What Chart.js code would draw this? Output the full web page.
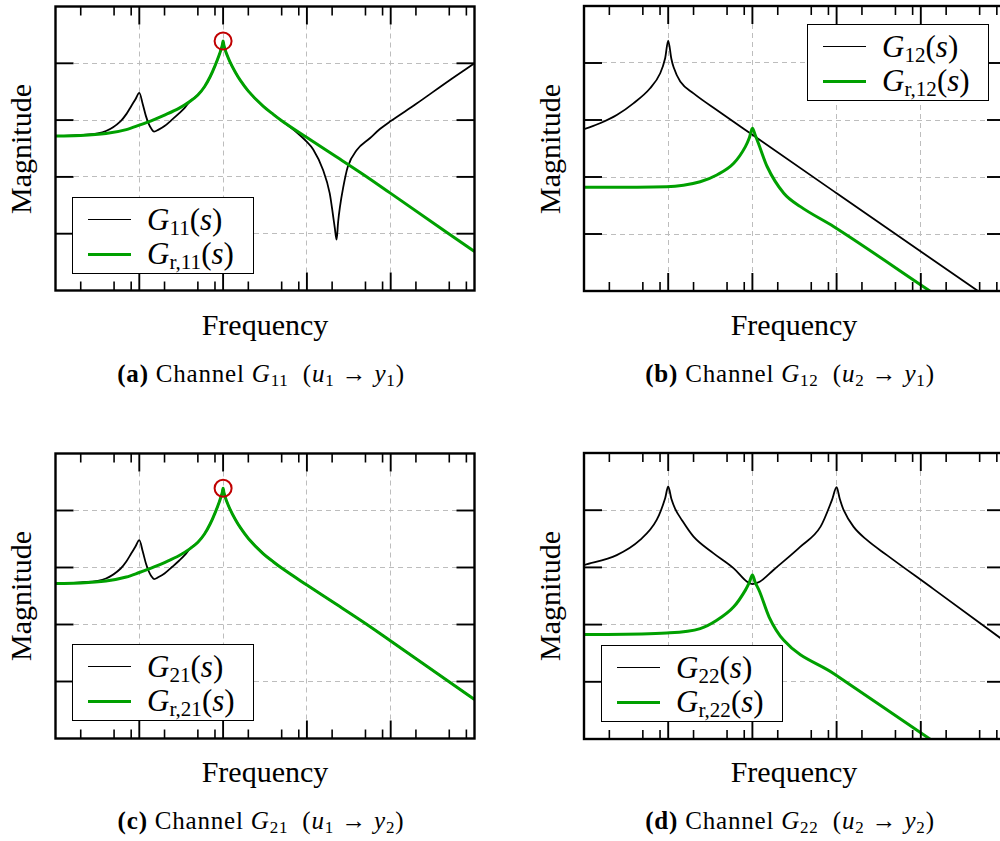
<!DOCTYPE html>
<html>
<head>
<meta charset="utf-8">
<script src="https://cdn.jsdelivr.net/npm/chart.js@4.4.1/dist/chart.umd.min.js"></script>
<style>
  html, body { margin: 0; padding: 0; background: #fff; overflow: hidden; }
  #page { position: relative; width: 1000px; height: 841px; overflow: hidden; font-family: "Liberation Serif", serif; color: #000; }
  .plot { position: absolute; }
  .ylab { position: absolute; width: 200px; height: 34px; line-height: 34px; font-size: 30px; text-align: center; white-space: nowrap; transform: rotate(-90deg); }
  .xlab { position: absolute; width: 300px; line-height: 34px; font-size: 30px; text-align: center; white-space: nowrap; }
  .cap { position: absolute; width: 440px; line-height: 28px; font-size: 25px; letter-spacing: 0.8px; text-align: center; white-space: nowrap; }
  .legend { position: absolute; width: 182px; height: 77px; background: #fff; border: 1.5px solid #000; box-sizing: border-box; }
  .legend .sw { position: absolute; left: 15px; width: 43px; height: 0; }
  .legend .txt { position: absolute; left: 74px; font-size: 31px; line-height: 34px; white-space: nowrap; }
  sub { font-size: 68%; vertical-align: -0.22em; line-height: 0; font-style: normal; }
  i { font-style: italic; }
</style>
</head>
<body>
<div id="page">
  <div class="plot" style="left:45px;top:-4px;width:440px;height:305px"><canvas id="chartA"></canvas></div>
  <div class="plot" style="left:574px;top:-4px;width:441px;height:305px"><canvas id="chartB"></canvas></div>
  <div class="plot" style="left:45px;top:443px;width:440px;height:306px"><canvas id="chartC"></canvas></div>
  <div class="plot" style="left:574px;top:443px;width:441px;height:306px"><canvas id="chartD"></canvas></div>

  <div class="ylab" style="left:-79px;top:132px">Magnitude</div>
  <div class="ylab" style="left:450px;top:132px">Magnitude</div>
  <div class="ylab" style="left:-79px;top:579px">Magnitude</div>
  <div class="ylab" style="left:450px;top:579px">Magnitude</div>

  <div class="xlab" style="left:115px;top:308px">Frequency</div>
  <div class="xlab" style="left:644px;top:308px">Frequency</div>
  <div class="xlab" style="left:115px;top:755px">Frequency</div>
  <div class="xlab" style="left:644px;top:755px">Frequency</div>

  <div class="cap" style="left:41px;top:360px"><b>(a)</b> Channel <i>G</i><sub>11</sub>&nbsp; (<i>u</i><sub>1</sub> → <i>y</i><sub>1</sub>)</div>
  <div class="cap" style="left:570px;top:360px"><b>(b)</b> Channel <i>G</i><sub>12</sub>&nbsp; (<i>u</i><sub>2</sub> → <i>y</i><sub>1</sub>)</div>
  <div class="cap" style="left:41px;top:807px"><b>(c)</b> Channel <i>G</i><sub>21</sub>&nbsp; (<i>u</i><sub>1</sub> → <i>y</i><sub>2</sub>)</div>
  <div class="cap" style="left:570px;top:807px"><b>(d)</b> Channel <i>G</i><sub>22</sub>&nbsp; (<i>u</i><sub>2</sub> → <i>y</i><sub>2</sub>)</div>

  <div class="legend" style="left:72px;top:197px">
    <div class="sw" style="top:21px;border-top:1.8px solid #000"></div>
    <div class="txt" style="top:5px"><i>G</i><sub>11</sub>(<i>s</i>)</div>
    <div class="sw" style="top:55px;border-top:3px solid #00a000"></div>
    <div class="txt" style="top:39px"><i>G</i><sub>r,11</sub>(<i>s</i>)</div>
  </div>
  <div class="legend" style="left:807px;top:24px">
    <div class="sw" style="top:21px;border-top:1.8px solid #000"></div>
    <div class="txt" style="top:5px"><i>G</i><sub>12</sub>(<i>s</i>)</div>
    <div class="sw" style="top:55px;border-top:3px solid #00a000"></div>
    <div class="txt" style="top:39px"><i>G</i><sub>r,12</sub>(<i>s</i>)</div>
  </div>
  <div class="legend" style="left:72px;top:644px">
    <div class="sw" style="top:21px;border-top:1.8px solid #000"></div>
    <div class="txt" style="top:5px"><i>G</i><sub>21</sub>(<i>s</i>)</div>
    <div class="sw" style="top:55px;border-top:3px solid #00a000"></div>
    <div class="txt" style="top:39px"><i>G</i><sub>r,21</sub>(<i>s</i>)</div>
  </div>
  <div class="legend" style="left:601px;top:645px">
    <div class="sw" style="top:21px;border-top:1.8px solid #000"></div>
    <div class="txt" style="top:5px"><i>G</i><sub>22</sub>(<i>s</i>)</div>
    <div class="sw" style="top:55px;border-top:3px solid #00a000"></div>
    <div class="txt" style="top:39px"><i>G</i><sub>r,22</sub>(<i>s</i>)</div>
  </div>
</div>

<script>
// axes: log frequency over five decades, magnitude in dB
const decades = [1, 10, 100, 1000, 10000, 100000];
const minorSteps = [2, 5, 8];
const gridFreqs = [10, 100, 1000, 10000];
const magTicks = [-60, -20, 20, 60];
const magRange = [-100, 100];

// G11 and its reduced model
const g11Freq = [1, 2, 4, 6, 7, 8, 9, 10, 11, 12, 13, 14, 15, 17, 20, 25, 30, 35, 40, 50, 60, 70, 80, 90, 95, 98, 100, 102, 105, 110, 120, 140, 160, 200, 300, 400, 500, 700, 1000, 1190, 1560, 1870, 2060, 2150, 2260, 2360, 2470, 2705, 3070, 3940, 5640, 7430, 10000, 20000, 50000, 100000];
const g11Mag  = [8.8, 9.5, 12.3, 19.3, 24.2, 29.8, 34.7, 39.2, 31.2, 22.8, 17.2, 13.7, 11.9, 13.3, 15.8, 20.7, 24.9, 28.8, 33.05, 37.7, 43.5, 50.5, 58.2, 66.0, 70.2, 73.0, 75.65, 73.0, 70.2, 66.7, 61.4, 53.7, 48.1, 40.4, 29.8, 23.9, 19.6, 13.0, 4.6, -0.7, -15.1, -31.4, -47.9, -55.8, -64.2, -51.6, -41.8, -27.7, -13.0, -1.05, 7.2, 13.7, 19.3, 31.3, 47.9, 60.0];
const gr11Freq = [1, 2, 4, 7, 10, 15, 20, 30, 40, 50, 60, 70, 80, 90, 95, 98, 100, 102, 105, 110, 120, 140, 160, 200, 300, 400, 500, 1000, 2000, 5000, 10000, 100000];
const gr11Mag  = [8.8, 9.1, 10.5, 13.3, 16.5, 20.4, 23.5, 28.4, 33.05, 37.7, 43.5, 50.5, 58.2, 66.0, 70.2, 73.0, 75.65, 73.0, 70.2, 66.7, 61.4, 53.7, 48.1, 40.4, 29.8, 23.9, 19.6, 7.7, -3.9, -19.3, -31.6, -72.6];

// G12 and its reduced model
const g12Freq = [1, 1.55, 2.45, 3.86, 6.1, 8.04, 9.2, 10, 10.9, 11.6, 13.9, 20, 40, 100, 1000, 10000, 100000];
const g12Mag  = [13.5, 17.7, 23.5, 31.7, 42.3, 52.8, 63.3, 75.7, 63, 57, 47, 38.7, 26.0, 9.6, -31.4, -72.3, -113];
const gr12Freq = [1, 9.6, 24, 37.8, 60, 82.6, 92, 100, 108, 119, 150, 236, 372, 929, 13200, 100000];
const gr12Mag  = [-27.2, -26.8, -23.3, -18.6, -10.4, 1.3, 7.5, 14.2, 9.5, 3.0, -12.8, -31.4, -40.8, -54.9, -100.5, -135];

// G21 and its reduced model
const g21Freq = [1, 2, 4, 6, 7, 8, 9, 10, 11, 12, 13, 14, 15, 17, 20, 25, 30, 35, 40, 50, 60, 70, 80, 90, 95, 98, 100, 102, 105, 110, 120, 140, 160, 200, 300, 400, 500, 1000, 2000, 5000, 10000, 100000];
const g21Mag  = [8.8, 9.5, 12.3, 19.3, 24.2, 29.8, 34.7, 39.2, 31.2, 22.8, 17.2, 13.7, 11.9, 13.3, 15.8, 20.7, 24.9, 28.8, 33.05, 37.7, 43.5, 50.5, 58.2, 66.0, 70.2, 73.0, 75.65, 73.0, 70.2, 66.7, 61.4, 53.7, 48.1, 40.4, 29.8, 23.9, 19.6, 7.7, -3.9, -19.3, -31.6, -72.6];
const gr21Freq = [1, 2, 4, 7, 10, 15, 20, 30, 40, 50, 60, 70, 80, 90, 95, 98, 100, 102, 105, 110, 120, 140, 160, 200, 300, 400, 500, 1000, 2000, 5000, 10000, 100000];
const gr21Mag  = [8.8, 9.1, 10.5, 13.3, 16.5, 20.4, 23.5, 28.4, 33.05, 37.7, 43.5, 50.5, 58.2, 66.0, 70.2, 73.0, 75.65, 73.0, 70.2, 66.7, 61.4, 53.7, 48.1, 40.4, 29.8, 23.9, 19.6, 7.7, -3.9, -19.3, -31.6, -72.6];

// G22 and its reduced model
const g22Freq = [1, 2.45, 4.64, 7.3, 9.2, 10, 10.9, 12.1, 14.5, 20, 34.6, 60, 86.5, 100, 122, 178, 372, 645, 882, 1000, 1090, 1214, 1585, 2286, 3955, 14200, 100000];
const g22Mag  = [21.6, 28.6, 39.2, 53.2, 68.4, 76.6, 68, 61, 53.2, 41.5, 29.8, 19.3, 9.9, 8.3, 9.9, 18.2, 34.5, 48.5, 67.2, 76.1, 68, 60, 48.5, 39.2, 28.6, 4.8, -31.8];
const gr22Freq = [1, 9.6, 24, 37.8, 60, 82.6, 92, 100, 108, 122, 158, 236, 929, 13200, 100000];
const gr22Mag  = [-27.0, -25.9, -22.8, -17.0, -7.6, 4.1, 9.5, 14.6, 9.5, 3.0, -14.7, -31.0, -54.4, -100.5, -135];

// dominant resonance kept by the reduction (circled in G11 and G21)
const peakFreq = [100];
const peakMag = [75.65];

const black = '#000000';
const green = '#00a000';

function points(freq, mag) {
  return freq.map((f, i) => ({ x: f, y: mag[i] }));
}

function curve(freq, mag, color, width, order) {
  return {
    data: points(freq, mag),
    borderColor: color,
    borderWidth: width,
    pointRadius: 0,
    fill: false,
    cubicInterpolationMode: 'monotone',
    clip: 0,
    order: order
  };
}

// inward tick marks on all four sides plus the heavy frame
const frameTicks = {
  id: 'frameTicks',
  afterDatasetsDraw(chart) {
    const { ctx, chartArea: a, scales: { x, y } } = chart;
    const seg = (x0, y0, x1, y1) => { ctx.beginPath(); ctx.moveTo(x0, y0); ctx.lineTo(x1, y1); ctx.stroke(); };
    ctx.save();
    ctx.strokeStyle = '#000';
    ctx.lineWidth = 1.6;
    decades.slice(0, -1).forEach(d => minorSteps.forEach(m => {
      const px = x.getPixelForValue(d * m);
      seg(px, a.bottom, px, a.bottom - 9);
      seg(px, a.top, px, a.top + 9);
    }));
    ctx.lineWidth = 1.9;
    gridFreqs.forEach(f => {
      const px = x.getPixelForValue(f);
      seg(px, a.bottom, px, a.bottom - 18);
      seg(px, a.top, px, a.top + 18);
    });
    magTicks.forEach(v => {
      const py = y.getPixelForValue(v);
      seg(a.left, py, a.left + 18, py);
      seg(a.right, py, a.right - 18, py);
    });
    ctx.lineWidth = 2.4;
    ctx.strokeRect(a.left, a.top, a.right - a.left, a.bottom - a.top);
    ctx.restore();
  }
};

function makeChart(id, plant, reduced, marked) {
  const datasets = [
    curve(plant[0], plant[1], black, 1.8, 2),
    curve(reduced[0], reduced[1], green, 3, 1)
  ];
  if (marked) {
    datasets.push({
      type: 'scatter',
      data: points(peakFreq, peakMag),
      pointRadius: 8.5,
      pointBorderWidth: 2,
      pointBorderColor: '#c00000',
      pointBackgroundColor: 'rgba(0,0,0,0)',
      clip: false,
      order: 0
    });
  }
  return new Chart(document.getElementById(id), {
    type: 'line',
    data: { datasets },
    options: {
      responsive: true,
      maintainAspectRatio: false,
      animation: false,
      events: [],
      layout: { padding: 10 },
      plugins: { legend: { display: false }, tooltip: { enabled: false } },
      scales: {
        x: {
          type: 'logarithmic',
          min: decades[0],
          max: decades[decades.length - 1],
          afterBuildTicks: s => { s.ticks = gridFreqs.map(v => ({ value: v })); },
          ticks: { display: false },
          grid: { color: '#bdbdbd', lineWidth: 1, drawTicks: false },
          border: { display: false, dash: [5, 4] }
        },
        y: {
          type: 'linear',
          min: magRange[0],
          max: magRange[1],
          afterBuildTicks: s => { s.ticks = magTicks.map(v => ({ value: v })); },
          ticks: { display: false },
          grid: { color: '#bdbdbd', lineWidth: 1, drawTicks: false },
          border: { display: false, dash: [5, 4] }
        }
      }
    },
    plugins: [frameTicks]
  });
}

makeChart('chartA', [g11Freq, g11Mag], [gr11Freq, gr11Mag], true);
makeChart('chartB', [g12Freq, g12Mag], [gr12Freq, gr12Mag], false);
makeChart('chartC', [g21Freq, g21Mag], [gr21Freq, gr21Mag], true);
makeChart('chartD', [g22Freq, g22Mag], [gr22Freq, gr22Mag], false);
</script>
</body>
</html>
